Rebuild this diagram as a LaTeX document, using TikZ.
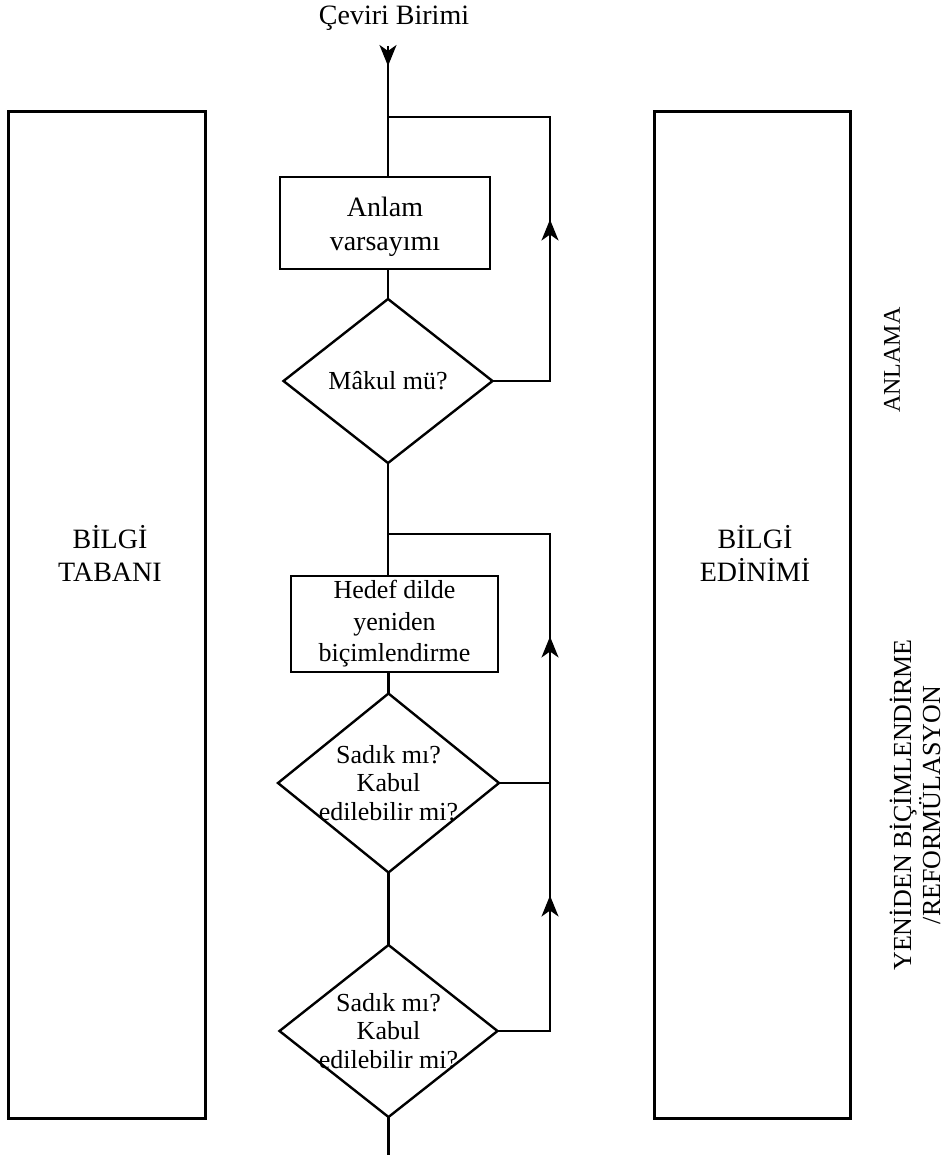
\documentclass[tikz,border=0pt]{standalone}
\usepackage{fontspec}
\setmainfont{Liberation Serif}
\usetikzlibrary{shapes.geometric,arrows.meta,decorations.markings}
\newcommand\fntTitle{\fontsize{28}{34}\selectfont}
\newcommand\fntBig{\fontsize{28}{33}\selectfont}
\newcommand\fntBoxA{\fontsize{28}{34}\selectfont}
\newcommand\fntBoxB{\fontsize{26}{31.5}\selectfont}
\newcommand\fntDec{\fontsize{26}{28.5}\selectfont}
\newcommand\fntSide{\fontsize{26}{29}\selectfont}
\newcommand\fntSideA{\fontsize{24}{28}\selectfont}
\tikzset{
  ln/.style={line width=2.4pt},
  bigbox/.style={draw, line width=3pt, minimum width=197pt, minimum height=1006pt, inner sep=0pt},
  procbox/.style={draw, line width=2.4pt, inner sep=0pt, align=center},
  dec/.style={draw, diamond, line width=2.4pt, inner sep=0pt, outer sep=0pt},
  tipmark/.style={postaction={decorate}, decoration={markings, mark=at position #1 with {\arrow{Stealth[length=21pt,width=17pt,inset=6pt]}}}},
  twotips/.style 2 args={postaction={decorate}, decoration={markings,
     mark=at position #1 with {\arrow{Stealth[length=21pt,width=17pt,inset=6pt]}},
     mark=at position #2 with {\arrow{Stealth[length=21pt,width=17pt,inset=6pt]}}}}
}
\begin{document}
\begin{tikzpicture}[x=1pt,y=-1pt]
\useasboundingbox (0,0) rectangle (945,1155);

% side columns
\node[bigbox] (kb) at (107,615) {};
\node[bigbox, minimum width=196pt] (ka) at (752,615) {};
\node[align=center, font=\fntBig] (kbt) at (110,553) {BİLGİ\\TABANI};
\node[align=center, font=\fntBig] (kat) at (755,553) {BİLGİ\\EDİNİMİ};

% title
\node[anchor=base, font=\fntTitle, inner sep=0pt] (title) at (394,25) {Çeviri Birimi};

% process elements
\node[procbox, minimum width=210pt, minimum height=92pt,
      label={[font=\fntBoxA, align=center, yshift=-4pt]center:{Anlam\\varsayımı}}] (b1) at (385,223) {};
\node[dec, minimum width=209pt, minimum height=164pt,
      label={[font=\fntDec]center:Mâkul mü?}] (d1) at (388,381) {};
\node[procbox, font=\fntBoxB, minimum width=207pt, minimum height=96pt] (b2) at (394.5,624) {Hedef dilde\\yeniden\\biçimlendirme};
\node[dec, minimum width=221pt, minimum height=179pt,
      label={[font=\fntDec, align=center]center:{Sadık mı?\\Kabul\\edilebilir mi?}}] (d2) at (388.5,783) {};
\node[dec, minimum width=218pt, minimum height=172pt,
      label={[font=\fntDec, align=center]center:{Sadık mı?\\Kabul\\edilebilir mi?}}] (d3) at (388.5,1031) {};

% side labels
\node[rotate=90, font=\fntSideA, inner sep=0pt] (anl) at (892,360) {ANLAMA};
\node[rotate=90, align=center, font=\fntSide, inner sep=0pt] (ref) at (915,805) {YENİDEN BİÇİMLENDİRME\\/REFORMÜLASYON};

% coordinates
\coordinate (top) at (388,46);
\coordinate (bot) at (388.5,1155);
\coordinate (j1) at (388,117);
\coordinate (r1) at (550,117);
\coordinate (j2) at (388,534);
\coordinate (r2) at (550,534);

% main flow
\draw[ln, tipmark=20pt] (top) -- (top |- b1.north);
\draw[ln] (b1.south -| top) -- (d1.north);
\draw[ln] (d1.south) -- (d1.south |- b2.north);
\draw[ln] (b2.south -| d2.north) -- (d2.north);
\draw[ln] (d2.south) -- (d3.north);
\draw[ln] (d3.south) -- (bot);

% loops
\draw[ln, tipmark=219pt] (d1.east) -| (r1) -- (j1);
\draw[ln, twotips={188pt}{447pt}] (d3.east) -| (r2) -- (j2);
\draw[ln] (d2.east) -- (d2.east -| r2);
\end{tikzpicture}
\end{document}
